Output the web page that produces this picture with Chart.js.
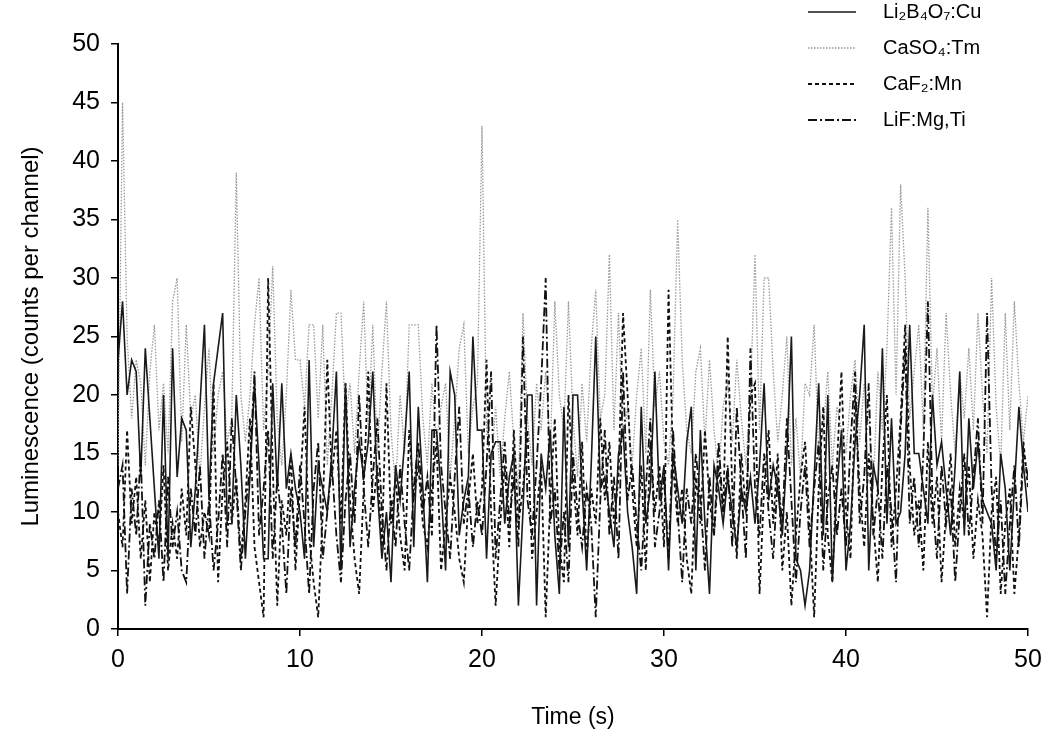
<!DOCTYPE html>
<html>
<head>
<meta charset="utf-8">
<title>Luminescence vs time</title>
<script src="https://cdn.jsdelivr.net/npm/chart.js@4.4.0/dist/chart.umd.min.js"></script>
<style>
    html, body { margin: 0; padding: 0; background: #fff; }
    #wrap { width: 1060px; height: 737px; }
</style>
</head>
<body>
<div id="wrap"><canvas id="lumChart" width="1060" height="737"></canvas></div>
<script>
// Sampling interval of the recordings (s)
const timeStep = 0.25;

// Series values (counts per channel, one every 0.25 s)
const li2b4o7Cu = [
    23, 28, 20, 23, 22, 13, 24, 18, 12, 6, 20, 6, 24, 13, 18, 17, 7, 12, 19, 26,
    11, 21, 24, 27, 9, 9, 20, 14, 6, 13, 21, 14, 6, 6, 21, 12, 21, 12, 15, 12,
    10, 6, 23, 7, 14, 12, 10, 15, 22, 5, 21, 7, 12, 16, 13, 16, 22, 12, 6, 10,
    4, 14, 11, 16, 22, 7, 19, 12, 4, 17, 17, 12, 5, 22, 20, 8, 11, 13, 25, 17,
    17, 6, 15, 16, 16, 9, 13, 15, 2, 10, 20, 20, 2, 15, 12, 17, 8, 3, 19, 7,
    20, 20, 12, 5, 14, 25, 12, 13, 10, 7, 15, 17, 10, 7, 3, 19, 9, 12, 22, 11,
    14, 5, 15, 12, 9, 16, 19, 5, 17, 9, 3, 14, 12, 9, 13, 10, 7, 12, 10, 13,
    9, 14, 21, 11, 14, 12, 8, 15, 25, 6, 5, 2, 5, 13, 21, 8, 20, 4, 12, 17,
    5, 9, 16, 20, 26, 5, 14, 12, 24, 9, 18, 9, 10, 15, 26, 15, 15, 12, 9, 20,
    14, 16, 12, 8, 14, 22, 8, 18, 12, 16, 11, 10, 9, 5, 15, 12, 5, 12, 19, 14,
    10
];
const caso4Tm = [
    14, 45, 25, 18, 23, 21, 14, 22, 26, 17, 21, 15, 28, 30, 16, 26, 18, 20, 13, 19,
    24, 15, 20, 22, 16, 18, 39, 20, 16, 20, 26, 30, 17, 22, 31, 18, 14, 20, 29, 23,
    23, 19, 26, 26, 18, 26, 14, 20, 27, 27, 18, 21, 15, 22, 28, 17, 26, 15, 22, 28,
    17, 12, 20, 15, 26, 26, 26, 18, 14, 21, 16, 19, 21, 13, 18, 24, 26, 15, 19, 21,
    43, 17, 14, 19, 13, 18, 22, 16, 12, 27, 18, 14, 21, 17, 22, 15, 28, 20, 17, 28,
    18, 13, 21, 16, 24, 29, 18, 20, 32, 17, 27, 16, 19, 14, 20, 24, 15, 29, 19, 22,
    16, 14, 20, 35, 23, 17, 15, 22, 24, 16, 23, 17, 13, 19, 21, 16, 23, 18, 14, 20,
    32, 17, 30, 30, 22, 16, 20, 25, 14, 18, 13, 21, 20, 26, 15, 17, 22, 14, 19, 17,
    15, 20, 23, 16, 21, 18, 12, 22, 17, 24, 36, 20, 38, 30, 18, 22, 26, 17, 36, 19,
    24, 16, 27, 20, 15, 22, 18, 24, 17, 27, 20, 15, 30, 19, 14, 27, 17, 28, 21, 16,
    20
];
const caf2Mn = [
    10, 7, 17, 9, 13, 6, 11, 4, 10, 7, 14, 5, 9, 6, 12, 8, 19, 14, 7, 10,
    8, 21, 4, 12, 16, 9, 13, 6, 11, 18, 7, 4, 1, 30, 14, 2, 11, 8, 15, 5,
    12, 19, 8, 4, 1, 10, 23, 13, 17, 9, 21, 11, 6, 3, 12, 22, 10, 14, 7, 21,
    9, 13, 8, 5, 17, 11, 14, 9, 7, 12, 16, 5, 9, 13, 10, 6, 4, 11, 15, 9,
    12, 23, 10, 2, 9, 14, 7, 17, 9, 12, 17, 6, 10, 14, 1, 11, 18, 7, 4, 20,
    13, 8, 16, 6, 12, 9, 18, 11, 16, 9, 13, 27, 20, 12, 7, 14, 5, 16, 10, 14,
    7, 29, 14, 9, 12, 6, 3, 13, 9, 17, 11, 8, 14, 10, 25, 12, 6, 15, 10, 20,
    21, 3, 12, 17, 9, 15, 5, 10, 2, 8, 13, 16, 9, 1, 12, 19, 8, 4, 14, 22,
    10, 6, 20, 12, 7, 15, 9, 4, 14, 20, 7, 12, 18, 26, 14, 8, 11, 5, 16, 9,
    13, 4, 10, 15, 7, 12, 9, 14, 6, 11, 8, 1, 10, 13, 3, 9, 12, 3, 8, 16,
    12
];
const lifMgTi = [
    12, 14, 3, 12, 8, 15, 2, 9, 6, 11, 4, 13, 7, 10, 5, 4, 12, 8, 14, 6,
    11, 5, 9, 15, 7, 18, 12, 5, 10, 14, 22, 8, 12, 17, 6, 13, 9, 3, 12, 7,
    14, 9, 3, 12, 16, 6, 10, 14, 8, 4, 11, 15, 9, 20, 12, 7, 13, 18, 10, 5,
    11, 7, 14, 9, 5, 12, 16, 10, 13, 8, 26, 14, 10, 6, 13, 19, 9, 12, 7, 11,
    8, 14, 22, 6, 11, 16, 9, 13, 7, 25, 11, 8, 14, 21, 30, 9, 12, 5, 10, 4,
    15, 10, 7, 12, 9, 1, 11, 17, 8, 13, 6, 22, 11, 14, 9, 5, 12, 18, 7, 10,
    13, 6, 17, 10, 4, 12, 9, 15, 11, 5, 13, 8, 16, 10, 14, 7, 19, 12, 6, 24,
    12, 8, 15, 10, 6, 13, 9, 18, 11, 4, 10, 14, 7, 12, 16, 5, 11, 14, 8, 12,
    7, 16, 22, 9, 13, 21, 8, 12, 6, 14, 10, 4, 17, 24, 9, 13, 7, 15, 28, 11,
    6, 14, 9, 12, 4, 10, 15, 8, 13, 18, 9, 27, 12, 6, 11, 3, 9, 14, 7, 15,
    13
];

const seriesLabels = ['Li\u2082B\u2084O\u2087:Cu', 'CaSO\u2084:Tm', 'CaF\u2082:Mn', 'LiF:Mg,Ti'];
const xTicks = [0, 10, 20, 30, 40, 50];
const yMax = 50;

const FONT = "'Liberation Sans', Arial, sans-serif";
const TICK_FONT = "'Liberation Sans Narrow', 'Liberation Sans', Arial, sans-serif";

function toPoints(values) {
    return values.map((v, i) => ({ x: i * timeStep, y: v }));
}

// Legend drawn inside the top-right corner, as in the original figure
const insideLegend = {
    id: 'insideLegend',
    afterDraw(chart) {
        const c = chart.ctx;
        const lineX0 = 808, lineX1 = 856, textX = 883;
        const rowY = [12, 48, 84, 120];
        c.save();
        c.font = '20px ' + FONT;
        c.textBaseline = 'middle';
        c.fillStyle = '#000';
        chart.data.datasets.forEach((ds, i) => {
            c.beginPath();
            c.strokeStyle = ds.borderColor;
            c.lineWidth = ds.borderWidth;
            c.setLineDash(ds.borderDash || []);
            c.moveTo(lineX0, rowY[i]);
            c.lineTo(lineX1, rowY[i]);
            c.stroke();
            c.setLineDash([]);
            c.fillText(ds.label, textX, rowY[i]);
        });
        c.restore();
    }
};

const ctx = document.getElementById('lumChart');
new Chart(ctx, {
    type: 'line',
    data: {
        datasets: [
            { label: seriesLabels[0], data: toPoints(li2b4o7Cu), borderColor: '#1a1a1a', borderWidth: 1.6, order: 2 },
            { label: seriesLabels[1], data: toPoints(caso4Tm), borderColor: '#999', borderWidth: 1.3, borderDash: [1.5, 1.5], order: 4 },
            { label: seriesLabels[2], data: toPoints(caf2Mn), borderColor: '#111', borderWidth: 1.8, borderDash: [4, 3], order: 3 },
            { label: seriesLabels[3], data: toPoints(lifMgTi), borderColor: '#111', borderWidth: 1.8, borderDash: [9, 3, 2, 3], order: 1 }
        ]
    },
    options: {
        responsive: false,
        animation: false,
        layout: { padding: { top: 44, right: 32, bottom: 0, left: 0 } },
        elements: {
            point: { radius: 0 },
            line: { tension: 0, fill: false }
        },
        plugins: {
            legend: { display: false },
            tooltip: { enabled: false }
        },
        scales: {
            x: {
                type: 'linear',
                min: xTicks[0],
                max: xTicks[xTicks.length - 1],
                afterBuildTicks: scale => { scale.ticks = xTicks.map(v => ({ value: v })); },
                ticks: { color: '#000', font: { family: TICK_FONT, size: 25 }, padding: 9, maxRotation: 0 },
                grid: { drawOnChartArea: false, tickLength: 7, color: '#000', lineWidth: 1.5 },
                border: { color: '#000', width: 2 },
                title: { display: true, text: 'Time (s)', color: '#000', font: { family: FONT, size: 23 }, padding: { top: 0, bottom: 6 } },
                afterFit: scale => { scale.height = 108; }
            },
            y: {
                min: 0,
                max: yMax,
                ticks: { stepSize: 5, color: '#000', font: { family: TICK_FONT, size: 25 }, padding: 11 },
                grid: { drawOnChartArea: false, tickLength: 7, color: '#000', lineWidth: 1.5 },
                border: { color: '#000', width: 2 },
                title: { display: true, text: 'Luminescence (counts per channel)', color: '#000', font: { family: FONT, size: 24 }, padding: { top: 17, bottom: 0 } },
                afterFit: scale => { scale.width = 118; }
            }
        }
    },
    plugins: [insideLegend]
});
</script>
</body>
</html>
